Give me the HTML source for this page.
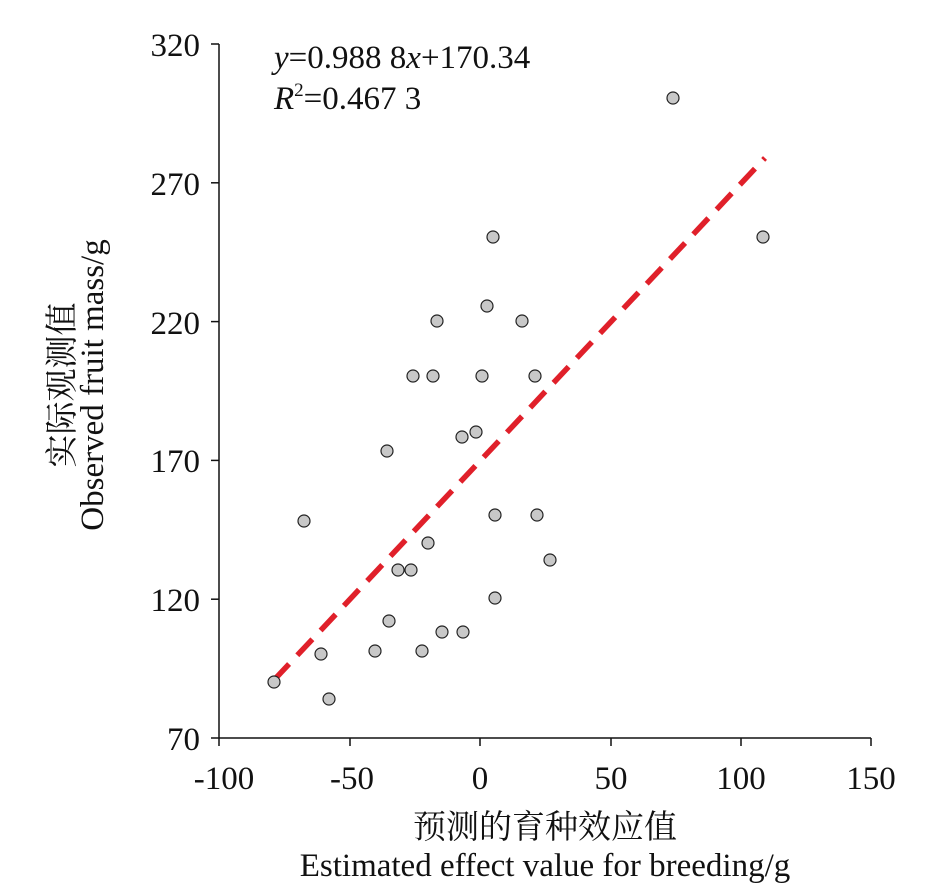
<!DOCTYPE html>
<html><head><meta charset="utf-8"><style>
body{margin:0;background:#fff}
svg{display:block}
text{font-family:"Liberation Serif","Noto Serif CJK SC",serif;fill:#111}
</style></head><body>
<svg width="937" height="896" viewBox="0 0 937 896" xmlns="http://www.w3.org/2000/svg">
<g stroke="#111" stroke-width="1.5" fill="none">
<line x1="219" y1="44" x2="219" y2="738"/>
<line x1="219" y1="738" x2="871" y2="738"/>
<line x1="211" y1="44" x2="219" y2="44"/>
<line x1="211" y1="182.8" x2="219" y2="182.8"/>
<line x1="211" y1="321.6" x2="219" y2="321.6"/>
<line x1="211" y1="460.4" x2="219" y2="460.4"/>
<line x1="211" y1="599.2" x2="219" y2="599.2"/>
<line x1="211" y1="738" x2="219" y2="738"/>
<line x1="219" y1="738" x2="219" y2="746"/>
<line x1="350" y1="738" x2="350" y2="746"/>
<line x1="480" y1="738" x2="480" y2="746"/>
<line x1="611" y1="738" x2="611" y2="746"/>
<line x1="741" y1="738" x2="741" y2="746"/>
<line x1="871" y1="738" x2="871" y2="746"/>
</g>
<g font-size="33" text-anchor="end">
<text x="200" y="56">320</text>
<text x="200" y="195">270</text>
<text x="200" y="334">220</text>
<text x="200" y="472">170</text>
<text x="200" y="611">120</text>
<text x="200" y="750">70</text>
</g>
<g font-size="33" text-anchor="middle">
<text x="224" y="789">-100</text>
<text x="352" y="789">-50</text>
<text x="480" y="789">0</text>
<text x="611" y="789">50</text>
<text x="741" y="789">100</text>
<text x="871" y="789">150</text>
<text x="545" y="838">预测的育种效应值</text>
<text x="545" y="876">Estimated effect value for breeding/g</text>
</g>
<g font-size="33" text-anchor="middle">
<text transform="translate(62,385) rotate(-90)" x="0" y="11">实际观测值</text>
<text transform="translate(92,385) rotate(-90)" x="0" y="11">Observed fruit mass/g</text>
</g>
<text x="274" y="68" font-size="33"><tspan font-style="italic">y</tspan>=0.988 8<tspan font-style="italic">x</tspan>+170.34</text>
<text x="274" y="109" font-size="33"><tspan font-style="italic">R</tspan><tspan font-size="19" dy="-13">2</tspan><tspan dy="13">=0.467 3</tspan></text>
<line x1="274" y1="680" x2="765" y2="158" stroke="#e0202a" stroke-width="5.5" stroke-dasharray="22,12"/>
<g fill="#c8c8c8" stroke="#222" stroke-width="1.2">
<circle cx="274" cy="682" r="6"/><circle cx="329" cy="699" r="6"/><circle cx="321" cy="654" r="6"/>
<circle cx="304" cy="521" r="6"/><circle cx="375" cy="651" r="6"/><circle cx="387" cy="451" r="6"/>
<circle cx="389" cy="621" r="6"/><circle cx="398" cy="570" r="6"/><circle cx="411" cy="570" r="6"/>
<circle cx="413" cy="376" r="6"/><circle cx="428" cy="543" r="6"/><circle cx="422" cy="651" r="6"/>
<circle cx="433" cy="376" r="6"/><circle cx="437" cy="321" r="6"/><circle cx="442" cy="632" r="6"/>
<circle cx="462" cy="437" r="6"/><circle cx="463" cy="632" r="6"/><circle cx="476" cy="432" r="6"/>
<circle cx="482" cy="376" r="6"/><circle cx="487" cy="306" r="6"/><circle cx="493" cy="237" r="6"/>
<circle cx="495" cy="515" r="6"/><circle cx="495" cy="598" r="6"/><circle cx="522" cy="321" r="6"/>
<circle cx="535" cy="376" r="6"/><circle cx="537" cy="515" r="6"/><circle cx="550" cy="560" r="6"/>
<circle cx="673" cy="98" r="6"/><circle cx="763" cy="237" r="6"/>
</g>
</svg>
</body></html>
